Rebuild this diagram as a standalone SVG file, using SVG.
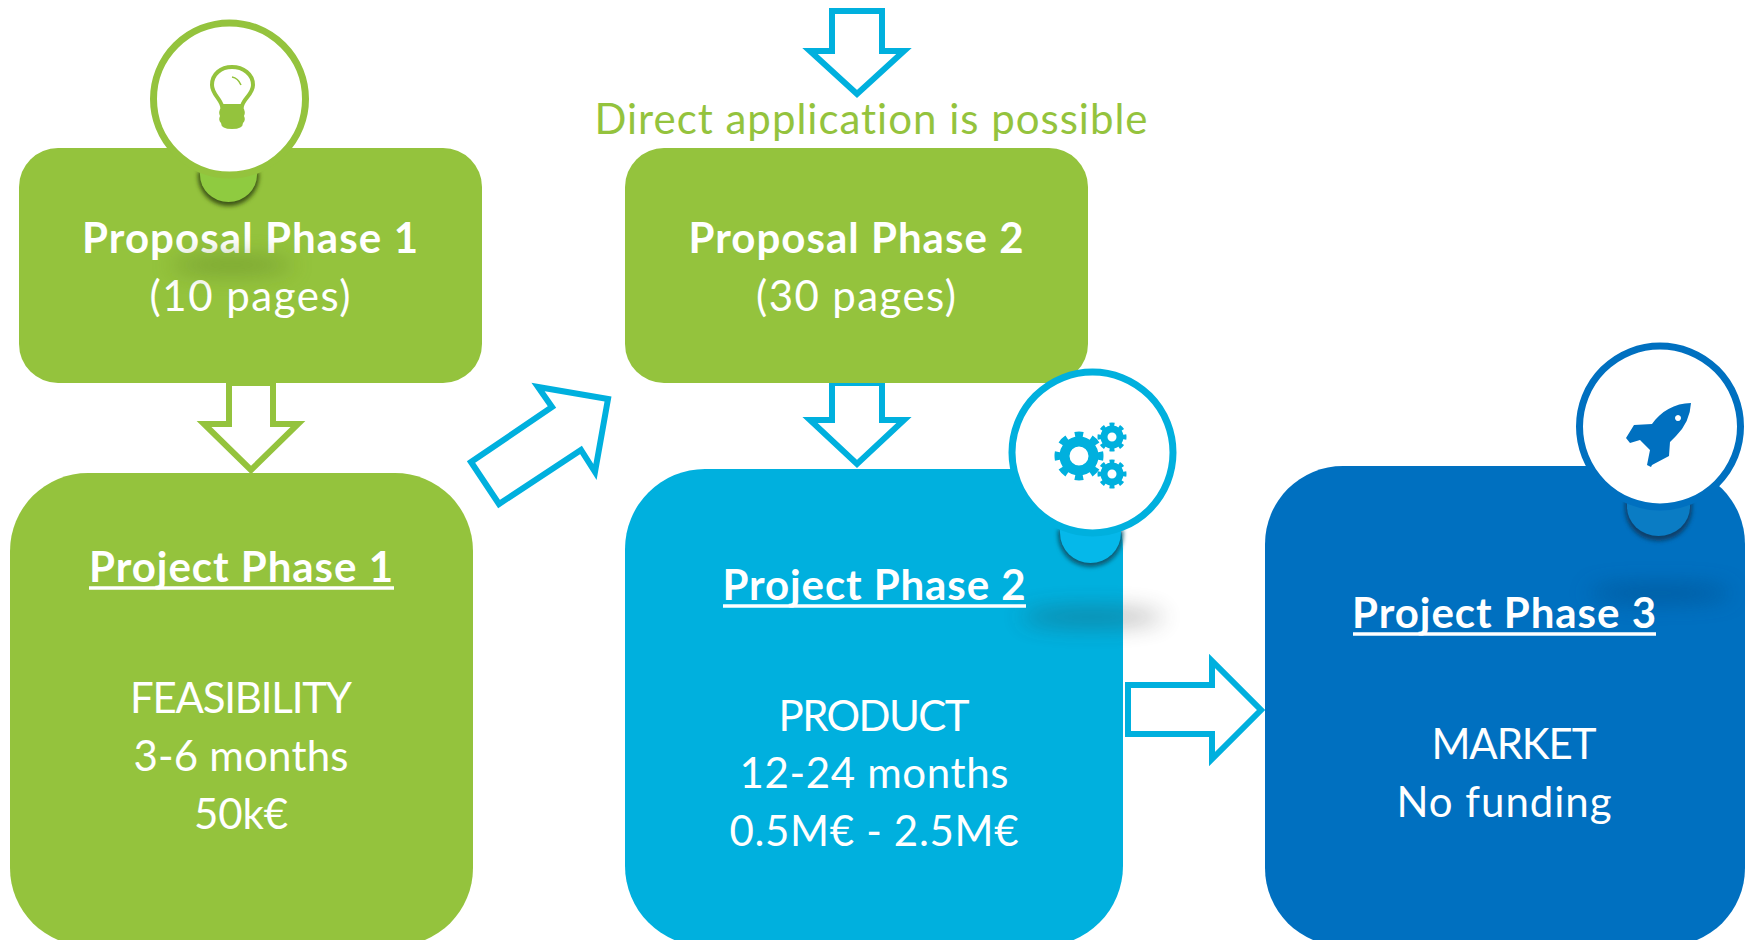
<svg xmlns="http://www.w3.org/2000/svg" width="1750" height="940" viewBox="0 0 1750 940">
<style>
text{font-family:Lato,"Open Sans",sans-serif;fill:#fff;text-anchor:middle;font-size:42px;font-variant-ligatures:none}
.b{font-weight:700}
.ul{stroke:#fff;stroke-width:3.500;fill:none}
.ar{fill:#fff;stroke-width:6;stroke-linejoin:miter}
.ring{fill:#fff;stroke-width:7}
</style>
<defs>
<filter id="blur" x="-50%" y="-200%" width="200%" height="500%"><feGaussianBlur stdDeviation="11"/></filter>
<filter id="soft" x="-30%" y="-30%" width="160%" height="160%"><feGaussianBlur stdDeviation="2"/></filter>
</defs>
<rect width="1750" height="940" fill="#fff"/>
<g id="connectors">
<path class="ar" stroke="#94c33d" d="M229 383V424H204L251 470L298 424H273V383Z"/>
<path class="ar" stroke="#00b0de" d="M832 11H882V51H904L857 94L810 51H832Z"/>
<path class="ar" stroke="#00b0de" d="M832 383H882V420H904L857 464L810 420H832Z"/>
<path class="ar" stroke="#00b0de" d="M471 462L552 407L538 387L608 399L595 472L581 450L499 504Z"/>
<path class="ar" stroke="#00b0de" d="M1128 685H1212V661L1261 710L1212 759V734H1128Z"/>
</g>
<g id="proposal1">
<rect x="19" y="148" width="463" height="235" rx="39" fill="#94c33d"/>
<text class="b" x="250" y="253" textLength="336">Proposal Phase 1</text>
<text x="250" y="311" textLength="201">(10 pages)</text>
<ellipse cx="232" cy="265" rx="62" ry="7" fill="#5f8226" opacity=".65" filter="url(#blur)"/>
</g>
<g id="idea">
<path d="M198 172H259V176A30.500 30 0 0 1 198 176Z" fill="#3c5518" filter="url(#soft)"/>
<path d="M200 172H257V175A28.500 27 0 0 1 200 175Z" fill="#8fcb40"/>
<circle class="ring" cx="229.500" cy="99" r="76" stroke="#94c33d"/>
<path d="M222 106C220 98 212 94 212 85C212 74 221 67 232 67C243 67 253 74 253 85C253 94 244 98 242 106Z" fill="none" stroke="#94c33d" stroke-width="4"/>
<path d="M221 107H243Q246 112 244 116Q246 120 243 123Q243 129 232 129Q221 129 221 123Q218 120 220 116Q218 112 221 107Z" fill="#94c33d"/>
<path d="M232 77Q238 78 241 85" fill="none" stroke="#94c33d" stroke-width="1.500"/>
</g>
<g id="project1">
<rect x="10" y="473" width="463" height="473" rx="78" fill="#94c33d"/>
<text class="b" x="241" y="582" textLength="304">Project Phase 1</text>
<path class="ul" d="M89 588H394"/>
<text x="241" y="713" textLength="222">FEASIBILITY</text>
<text x="241" y="771" textLength="215">3-6 months</text>
<text x="241" y="829" textLength="94">50k€</text>
</g>
<g id="direct">
<text x="871" y="134" style="fill:#94c33d" textLength="553">Direct application is possible</text>
</g>
<g id="proposal2">
<rect x="625" y="148" width="463" height="235" rx="39" fill="#94c33d"/>
<text class="b" x="856" y="253" textLength="335">Proposal Phase 2</text>
<text x="856" y="311" textLength="200">(30 pages)</text>
</g>
<g id="project2">
<rect x="625" y="469" width="498" height="477" rx="80" fill="#00b0de"/>
<ellipse cx="1092" cy="617" rx="72" ry="10" fill="#333" opacity=".3" filter="url(#blur)"/>
<text class="b" x="874" y="600" textLength="303">Project Phase 2</text>
<path class="ul" d="M723 606H1026"/>
<text x="874" y="731" textLength="191">PRODUCT</text>
<text x="874" y="788" textLength="269">12-24 months</text>
<text x="874" y="846" textLength="289">0.5M€ - 2.5M€</text>
</g>
<g id="gears">
<path d="M1058 530H1123V535A32.500 32 0 0 1 1058 535Z" fill="#075a72" filter="url(#soft)"/>
<path d="M1060 530H1121V533A30.500 30 0 0 1 1060 533Z" fill="#05b8ea"/>
<circle class="ring" cx="1092.500" cy="452.500" r="80.500" stroke="#00b0de"/>
<g fill="none" stroke="#00b0de">
<circle cx="1079" cy="456" r="14.500" stroke-width="10"/>
<circle cx="1079" cy="456" r="21.500" stroke-width="6" pathLength="80" stroke-dasharray="5 5" stroke-dashoffset="2.500"/>
<circle cx="1112" cy="437" r="8" stroke-width="7"/>
<circle cx="1112" cy="437" r="12.500" stroke-width="4" pathLength="80" stroke-dasharray="5 5" stroke-dashoffset="2.500"/>
<circle cx="1112" cy="474" r="8" stroke-width="7"/>
<circle cx="1112" cy="474" r="12.500" stroke-width="4" pathLength="80" stroke-dasharray="5 5" stroke-dashoffset="2.500"/>
</g>
</g>
<g id="project3">
<rect x="1265" y="466" width="480" height="480" rx="78" fill="#0070c0"/>
<ellipse cx="1660" cy="593" rx="72" ry="8" fill="#00508c" opacity=".7" filter="url(#blur)"/>
<text class="b" x="1504" y="628" textLength="304">Project Phase 3</text>
<path class="ul" d="M1353 634H1656"/>
<text x="1514" y="759" textLength="165">MARKET</text>
<text x="1504" y="817" textLength="215">No funding</text>
</g>
<g id="rocket">
<path d="M1625 500H1692V509A33.500 32 0 0 1 1625 509Z" fill="#0a3f6b" filter="url(#soft)"/>
<path d="M1627 500H1690V507A31.500 29 0 0 1 1627 507Z" fill="#0a7cc4"/>
<circle class="ring" cx="1660" cy="426.500" r="80.500" stroke="#0070c0"/>
<path fill="#0070c0" fill-rule="evenodd" d="M1691 403Q1690 422 1676 436L1670 442L1669 456L1652 465L1651 467L1647 465L1650 450L1640 440L1630 443L1626 438L1634 425L1652 424C1660 412 1675 403 1691 403ZM1678 415a3 3 0 1 0 .01 0Z"/>
</g>
</svg>
